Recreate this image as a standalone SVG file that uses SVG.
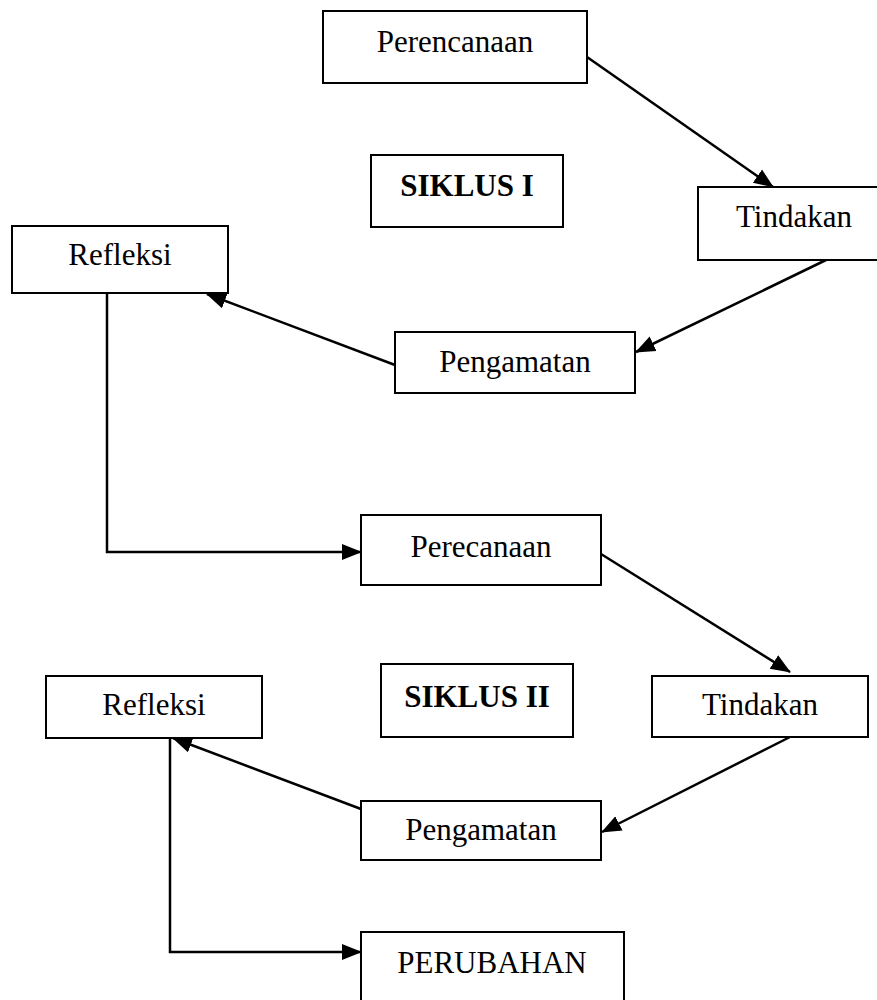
<svg xmlns="http://www.w3.org/2000/svg" width="877" height="1000" viewBox="0 0 877 1000">
<style>
.n{fill:#fff;stroke:#000;stroke-width:2}
text{font-family:"Liberation Serif","Times New Roman",serif;font-size:31px;fill:#000;text-anchor:middle}
.b{font-weight:bold}
.c{fill:none;stroke:#000;stroke-width:2.5}
</style>
<defs>
<marker id="ah" markerUnits="userSpaceOnUse" markerWidth="20" markerHeight="18" refX="19" refY="8" orient="auto" viewBox="0 0 20 16">
<path d="M0,0 L20,8 L0,16 z" fill="#000"/>
</marker>
</defs>
<rect width="877" height="1000" fill="#fff"/>
<g id="connectors">
<line class="c" x1="587" y1="57" x2="773" y2="187" marker-end="url(#ah)"/>
<line class="c" x1="826" y1="260" x2="636" y2="352" marker-end="url(#ah)"/>
<line class="c" x1="395" y1="365" x2="207" y2="294" marker-end="url(#ah)"/>
<path class="c" d="M107,293 V552 H361" marker-end="url(#ah)"/>
<line class="c" x1="601" y1="554" x2="790" y2="672" marker-end="url(#ah)"/>
<line class="c" x1="790" y1="737" x2="602" y2="832" marker-end="url(#ah)"/>
<line class="c" x1="361" y1="809" x2="173" y2="738" marker-end="url(#ah)"/>
<path class="c" d="M170,738 V952 H361" marker-end="url(#ah)"/>
</g>
<g id="perencanaan1"><rect class="n" x="323" y="11" width="264" height="72"/><text x="455" y="52">Perencanaan</text></g>
<g id="siklus1"><rect class="n" x="371" y="155" width="192" height="72"/><text class="b" x="467" y="196">SIKLUS I</text></g>
<g id="tindakan1"><rect class="n" x="698" y="187" width="192" height="73"/><text x="794" y="227">Tindakan</text></g>
<g id="refleksi1"><rect class="n" x="12" y="226" width="216" height="67"/><text x="120" y="265">Refleksi</text></g>
<g id="pengamatan1"><rect class="n" x="395" y="332" width="240" height="61"/><text x="515" y="372">Pengamatan</text></g>
<g id="perencanaan2"><rect class="n" x="361" y="515" width="240" height="70"/><text x="481" y="557">Perecanaan</text></g>
<g id="siklus2"><rect class="n" x="381" y="664" width="192" height="73"/><text class="b" x="477" y="707">SIKLUS II</text></g>
<g id="tindakan2"><rect class="n" x="652" y="676" width="216" height="61"/><text x="760" y="715">Tindakan</text></g>
<g id="refleksi2"><rect class="n" x="46" y="676" width="216" height="62"/><text x="154" y="715">Refleksi</text></g>
<g id="pengamatan2"><rect class="n" x="361" y="801" width="240" height="59"/><text x="481" y="840">Pengamatan</text></g>
<g id="perubahan"><rect class="n" x="361" y="932" width="263" height="80"/><text x="492" y="973">PERUBAHAN</text></g>
</svg>
